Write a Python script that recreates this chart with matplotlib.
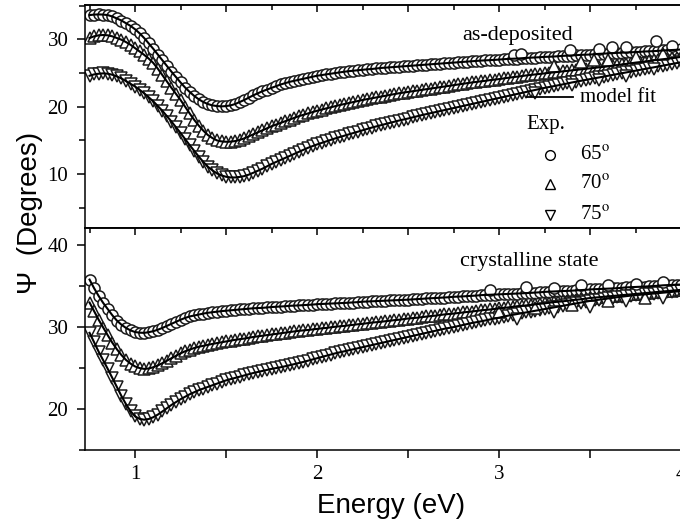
import matplotlib.pyplot as plt
from matplotlib.ticker import MultipleLocator

# Energy grid of the ellipsometry scans, 0.75 - 4.00 eV in 0.025 eV steps
energy = [round(0.75 + 0.025 * i, 3) for i in range(131)]

# Psi (degrees), as-deposited film (one row = 0.25 eV)
dep_65 = [33.6, 33.68, 33.7, 33.68, 33.6, 33.4, 33.1, 32.8, 32.4, 32.0,
          31.5, 30.9, 30.2, 29.4, 28.6, 27.75, 26.9, 26.05, 25.2, 24.4,
          23.6, 22.85, 22.2, 21.6, 21.1, 20.7, 20.4, 20.2, 20.1, 20.05,
          20.1, 20.2, 20.4, 20.7, 21.0, 21.35, 21.7, 22.0, 22.3, 22.55,
          22.8, 23.05, 23.3, 23.5, 23.7, 23.85, 24.0, 24.15, 24.3, 24.45,
          24.6, 24.7, 24.8, 24.9, 25.0, 25.1, 25.2, 25.28, 25.35, 25.42,
          25.5, 25.55, 25.6, 25.68, 25.75, 25.8, 25.85, 25.9, 25.95, 26.0,
          26.05, 26.1, 26.15, 26.2, 26.25, 26.3, 26.35, 26.4, 26.45, 26.5,
          26.55, 26.6, 26.65, 26.7, 26.75, 26.8, 26.85, 26.88, 26.9, 26.95,
          27.0, 27.05, 27.1, 27.12, 27.15, 27.2, 27.25, 27.28, 27.3, 27.35,
          27.4, 27.42, 27.45, 27.5, 27.55, 27.58, 27.6, 27.65, 27.7, 27.72,
          27.75, 27.8, 27.85, 27.88, 27.9, 27.95, 28.0, 28.02, 28.05, 28.08,
          28.1, 28.15, 28.2, 28.22, 28.25, 28.3, 28.35, 28.38, 28.4, 28.45,
          28.5]
dep_70 = [30.2, 30.45, 30.6, 30.65, 30.6, 30.45, 30.2, 29.95, 29.6, 29.2,
          28.7, 28.2, 27.7, 27.15, 26.5, 25.65, 24.7, 23.75, 22.8, 21.9,
          21.0, 20.0, 19.0, 18.05, 17.2, 16.45, 15.8, 15.35, 15.0, 14.85,
          14.8, 14.82, 14.9, 15.08, 15.3, 15.6, 15.9, 16.2, 16.5, 16.8,
          17.1, 17.35, 17.6, 17.85, 18.1, 18.35, 18.6, 18.8, 19.0, 19.2,
          19.4, 19.58, 19.75, 19.92, 20.1, 20.25, 20.4, 20.55, 20.7, 20.85,
          21.0, 21.12, 21.25, 21.38, 21.5, 21.62, 21.75, 21.88, 22.0, 22.1,
          22.2, 22.3, 22.4, 22.5, 22.6, 22.7, 22.8, 22.9, 23.0, 23.1,
          23.2, 23.3, 23.4, 23.5, 23.6, 23.68, 23.75, 23.85, 23.95, 24.02,
          24.1, 24.2, 24.3, 24.38, 24.45, 24.55, 24.65, 24.72, 24.8, 24.88,
          24.95, 25.02, 25.1, 25.18, 25.25, 25.32, 25.4, 25.48, 25.55, 25.62,
          25.7, 25.78, 25.85, 25.92, 26.0, 26.1, 26.2, 26.28, 26.35, 26.45,
          26.55, 26.62, 26.7, 26.8, 26.9, 26.98, 27.05, 27.12, 27.2, 27.3,
          27.4]
dep_75 = [24.6, 24.8, 24.9, 24.95, 24.9, 24.75, 24.5, 24.2, 23.8, 23.4,
          23.0, 22.5, 22.0, 21.4, 20.8, 20.1, 19.4, 18.6, 17.8, 16.95,
          16.1, 15.2, 14.3, 13.45, 12.6, 11.8, 11.1, 10.55, 10.1, 9.8,
          9.6, 9.5, 9.5, 9.58, 9.7, 9.92, 10.2, 10.5, 10.8, 11.15,
          11.5, 11.8, 12.1, 12.4, 12.7, 13.0, 13.3, 13.6, 13.9, 14.15,
          14.4, 14.62, 14.85, 15.08, 15.3, 15.5, 15.7, 15.9, 16.1, 16.3,
          16.5, 16.7, 16.9, 17.08, 17.25, 17.42, 17.6, 17.78, 17.95, 18.1,
          18.25, 18.42, 18.6, 18.75, 18.9, 19.05, 19.2, 19.35, 19.5, 19.65,
          19.8, 19.95, 20.1, 20.25, 20.4, 20.55, 20.7, 20.85, 21.0, 21.15,
          21.3, 21.45, 21.6, 21.75, 21.9, 22.05, 22.2, 22.35, 22.5, 22.65,
          22.8, 22.92, 23.05, 23.18, 23.3, 23.45, 23.6, 23.72, 23.85, 23.98,
          24.1, 24.22, 24.35, 24.48, 24.6, 24.72, 24.85, 24.98, 25.1, 25.22,
          25.35, 25.48, 25.6, 25.72, 25.85, 25.98, 26.1, 26.22, 26.35, 26.48,
          26.6]

# Psi (degrees), crystalline film
cry_65 = [35.8, 34.75, 33.8, 32.95, 32.2, 31.45, 30.8, 30.3, 29.9, 29.6,
          29.4, 29.32, 29.3, 29.38, 29.5, 29.68, 29.9, 30.15, 30.4, 30.65,
          30.9, 31.12, 31.3, 31.42, 31.55, 31.65, 31.75, 31.82, 31.9, 31.95,
          32.0, 32.05, 32.1, 32.15, 32.2, 32.25, 32.3, 32.32, 32.35, 32.4,
          32.45, 32.48, 32.5, 32.55, 32.6, 32.62, 32.65, 32.68, 32.7, 32.75,
          32.8, 32.82, 32.85, 32.88, 32.9, 32.92, 32.95, 32.98, 33.0, 33.05,
          33.1, 33.12, 33.15, 33.18, 33.2, 33.22, 33.25, 33.28, 33.3, 33.32,
          33.35, 33.38, 33.4, 33.45, 33.5, 33.52, 33.55, 33.58, 33.6, 33.65,
          33.7, 33.72, 33.75, 33.78, 33.8, 33.85, 33.9, 33.92, 33.95, 33.98,
          34.0, 34.02, 34.05, 34.08, 34.1, 34.12, 34.15, 34.18, 34.2, 34.25,
          34.3, 34.32, 34.35, 34.38, 34.4, 34.42, 34.45, 34.48, 34.5, 34.55,
          34.6, 34.62, 34.65, 34.68, 34.7, 34.72, 34.75, 34.8, 34.85, 34.88,
          34.9, 34.92, 34.95, 34.98, 35.0, 35.05, 35.1, 35.12, 35.15, 35.18,
          35.2]
cry_70 = [33.0, 31.95, 30.9, 29.95, 29.0, 28.1, 27.3, 26.6, 26.0, 25.55,
          25.2, 25.0, 24.9, 24.95, 25.1, 25.32, 25.6, 25.9, 26.2, 26.5,
          26.8, 27.05, 27.25, 27.45, 27.6, 27.72, 27.85, 27.95, 28.05, 28.15,
          28.25, 28.35, 28.45, 28.52, 28.6, 28.7, 28.8, 28.88, 28.95, 29.02,
          29.1, 29.18, 29.25, 29.32, 29.4, 29.48, 29.55, 29.6, 29.65, 29.72,
          29.8, 29.85, 29.9, 29.98, 30.05, 30.1, 30.15, 30.22, 30.3, 30.35,
          30.4, 30.48, 30.55, 30.6, 30.65, 30.72, 30.8, 30.85, 30.9, 30.98,
          31.05, 31.1, 31.15, 31.22, 31.3, 31.35, 31.4, 31.48, 31.55, 31.6,
          31.65, 31.72, 31.8, 31.85, 31.9, 31.98, 32.05, 32.1, 32.15, 32.22,
          32.3, 32.35, 32.4, 32.48, 32.55, 32.6, 32.65, 32.72, 32.8, 32.85,
          32.9, 32.98, 33.05, 33.1, 33.15, 33.22, 33.3, 33.35, 33.4, 33.48,
          33.55, 33.6, 33.65, 33.7, 33.75, 33.8, 33.85, 33.9, 33.95, 34.0,
          34.05, 34.1, 34.15, 34.2, 34.25, 34.3, 34.35, 34.4, 34.45, 34.5,
          34.55]
cry_75 = [29.3, 28.15, 27.0, 25.95, 24.9, 23.8, 22.7, 21.6, 20.6, 19.75,
          19.1, 18.8, 18.7, 18.78, 19.0, 19.32, 19.7, 20.1, 20.5, 20.85,
          21.2, 21.5, 21.8, 22.05, 22.3, 22.5, 22.7, 22.9, 23.1, 23.3,
          23.5, 23.65, 23.8, 23.95, 24.1, 24.25, 24.4, 24.52, 24.65, 24.78,
          24.9, 25.0, 25.1, 25.22, 25.35, 25.48, 25.6, 25.75, 25.9, 26.05,
          26.2, 26.35, 26.5, 26.65, 26.8, 26.92, 27.05, 27.18, 27.3, 27.42,
          27.55, 27.68, 27.8, 27.92, 28.05, 28.18, 28.3, 28.42, 28.55, 28.68,
          28.8, 28.92, 29.05, 29.18, 29.3, 29.42, 29.55, 29.68, 29.8, 29.9,
          30.0, 30.12, 30.25, 30.38, 30.5, 30.6, 30.7, 30.82, 30.95, 31.05,
          31.15, 31.28, 31.4, 31.5, 31.6, 31.7, 31.8, 31.9, 32.0, 32.1,
          32.2, 32.3, 32.4, 32.5, 32.6, 32.7, 32.8, 32.9, 33.0, 33.1,
          33.2, 33.28, 33.35, 33.42, 33.5, 33.58, 33.65, 33.72, 33.8, 33.85,
          33.9, 33.95, 34.0, 34.05, 34.1, 34.15, 34.2, 34.25, 34.3, 34.35,
          34.4]

# noisy high-energy points that sit off the main bands
dep_65_noise_e = [3.08, 3.12, 3.39, 3.55, 3.62, 3.70, 3.86, 3.95]
dep_65_noise_v = [27.7, 27.9, 28.4, 28.6, 28.9, 28.8, 29.8, 29.0]
dep_70_noise_e = [3.30, 3.45, 3.52, 3.60, 3.75, 3.90]
dep_70_noise_v = [26.0, 26.6, 27.0, 26.9, 27.4, 27.8]
dep_75_noise_e = [3.20, 3.40, 3.55, 3.70, 3.85]
dep_75_noise_v = [22.0, 23.2, 23.9, 24.6, 25.6]
cry_65_noise_e = [2.95, 3.15, 3.30, 3.45, 3.60, 3.75, 3.90]
cry_65_noise_v = [34.5, 34.9, 34.8, 35.1, 35.2, 35.3, 35.5]
cry_70_noise_e = [3.00, 3.20, 3.40, 3.60, 3.80]
cry_70_noise_v = [31.8, 32.3, 32.7, 33.2, 33.5]
cry_75_noise_e = [3.10, 3.30, 3.50, 3.70, 3.90]
cry_75_noise_v = [31.0, 31.8, 32.5, 33.2, 33.6]

angle_labels = ["65", "70", "75"]
angle_markers = ["o", "^", "v"]

plt.rcParams["font.family"] = ["Liberation Serif", "DejaVu Serif"]
plt.rcParams["mathtext.fontset"] = "stix"
plt.rcParams["axes.linewidth"] = 1.1

fig = plt.figure(figsize=(6.8, 5.27), dpi=100)
ax_top = fig.add_axes([0.125, 0.5674, 0.8897, 0.4231])
ax_bot = fig.add_axes([0.125, 0.1461, 0.8897, 0.4213])

mk = dict(ms=8, mfc="white", mec="#1a1a1a", mew=1.1, ls="none")


def draw_panel(ax, series, noise):
    for vals, m in zip(series, angle_markers):
        ax.plot(energy, vals, marker=m, **mk, zorder=2)
    for (ne, nv), m in zip(noise, angle_markers):
        ax.plot(ne, nv, marker=m, **mk, zorder=2)
    # model fit on top of the data
    for vals in series:
        ax.plot(energy, vals, color="black", lw=1.5, zorder=3)

    ax.set_xlim(0.725, 4.049)
    ax.spines["right"].set_visible(False)
    ax.yaxis.set_minor_locator(MultipleLocator(5))
    ax.yaxis.set_major_locator(MultipleLocator(10))
    ax.tick_params(axis="y", which="major", direction="out", length=6, width=1.1,
                   labelsize=15, pad=6)
    ax.tick_params(axis="y", which="minor", direction="out", length=4, width=1.1)

    # inward ticks along the upper edge
    sec = ax.secondary_xaxis("top")
    sec.xaxis.set_major_locator(MultipleLocator(0.5))
    sec.xaxis.set_minor_locator(MultipleLocator(0.25))
    sec.tick_params(which="major", direction="in", length=5, width=1.1, labeltop=False)
    sec.tick_params(which="minor", direction="in", length=3.5, width=1.1)


draw_panel(ax_top, [dep_65, dep_70, dep_75],
           [(dep_65_noise_e, dep_65_noise_v), (dep_70_noise_e, dep_70_noise_v),
            (dep_75_noise_e, dep_75_noise_v)])
draw_panel(ax_bot, [cry_65, cry_70, cry_75],
           [(cry_65_noise_e, cry_65_noise_v), (cry_70_noise_e, cry_70_noise_v),
            (cry_75_noise_e, cry_75_noise_v)])

ax_top.set_ylim(2, 35.1)
ax_top.tick_params(axis="x", which="both", bottom=False, labelbottom=False)

ax_bot.set_ylim(15, 42.1)
ax_bot.xaxis.set_major_locator(MultipleLocator(1))
ax_bot.xaxis.set_minor_locator(MultipleLocator(0.5))
ax_bot.tick_params(axis="x", which="both", direction="out", length=6, width=1.1,
                   labelsize=15, pad=5)

# legend and labels
ax_top.text(0.623, 0.865, "as-deposited", transform=ax_top.transAxes,
            fontsize=16, va="center", ha="left")
ax_top.plot([0.731, 0.807], [0.587, 0.587], color="black", lw=1.3,
            transform=ax_top.transAxes)
ax_top.text(0.818, 0.587, "model fit", transform=ax_top.transAxes,
            fontsize=15, va="center", ha="left")
ax_top.text(0.729, 0.462, "Exp.", transform=ax_top.transAxes,
            fontsize=15, va="center", ha="left")
for lab, m, y in zip(angle_labels, angle_markers, [0.327, 0.197, 0.058]):
    ax_top.plot([0.7686], [y], marker=m, ms=7, mfc="white", mec="black", mew=1.0,
                ls="none", transform=ax_top.transAxes)
    ax_top.text(0.818, y, lab + r"$^{\mathrm{o}}$", transform=ax_top.transAxes,
                fontsize=15, va="center", ha="left")

ax_bot.text(0.62, 0.851, "crystalline state", transform=ax_bot.transAxes,
            fontsize=16, va="center", ha="left")

fig.text(0.044, 0.595, "\u03a8  (Degrees)", rotation=90, ha="center", va="center",
         fontsize=20, family=["Liberation Sans", "DejaVu Sans"])
fig.text(0.575, 0.04, "Energy (eV)", ha="center", va="center",
         fontsize=20, family=["Liberation Sans", "DejaVu Sans"])

fig.savefig("out.png", dpi=100)
